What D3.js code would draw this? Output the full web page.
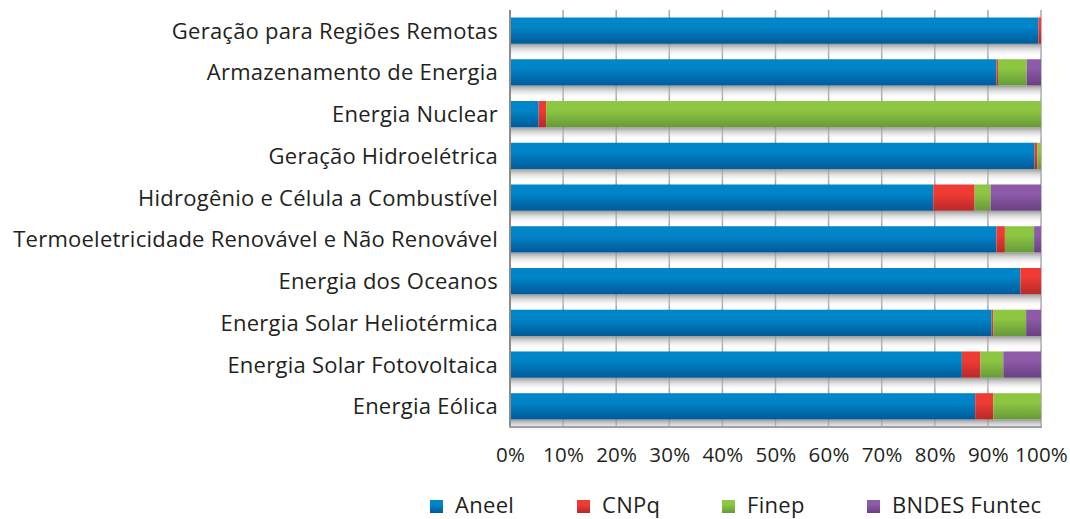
<!DOCTYPE html>
<html>
<head>
<meta charset="utf-8">
<script src="https://cdn.jsdelivr.net/npm/d3@7"></script>
<style>
  html, body { margin: 0; padding: 0; background: #fff; }
  svg text { font-family: "Open Sans", "Lato", sans-serif; fill: #231f20; }
</style>
</head>
<body>
<svg id="chart" width="1070" height="519"></svg>
<script>
// Programs, top to bottom
const categories = [
  "Geração para Regiões Remotas",
  "Armazenamento de Energia",
  "Energia Nuclear",
  "Geração Hidroelétrica",
  "Hidrogênio e Célula a Combustível",
  "Termoeletricidade Renovável e Não Renovável",
  "Energia dos Oceanos",
  "Energia Solar Heliotérmica",
  "Energia Solar Fotovoltaica",
  "Energia Eólica"
];

// Share of each funding source (%)
const aneel = [99.5, 91.6, 5.4, 98.8, 79.7, 91.6, 96.1, 90.7, 85.1, 87.6];
const cnpq  = [0.5,  0.3,  1.4, 0.5,  7.8,  1.6,  3.9,  0.3,  3.5,  3.4];
const finep = [0,    5.4, 93.2, 0.7,  3.0,  5.5,  0,    6.2,  4.3,  9.0];
const bndes = [0,    2.7,  0,   0,    9.5,  1.3,  0,    2.8,  7.1,  0];

const seriesNames = ["Aneel", "CNPq", "Finep", "BNDES Funtec"];
const tickValues = [0, 10, 20, 30, 40, 50, 60, 70, 80, 90, 100];

const seriesColors = [
  ["#0085c8", "#005a99"],
  ["#f03b35", "#b8282a"],
  ["#8dc641", "#66993a"],
  ["#8d5ba8", "#6a3f82"]
];

const rows = categories.map((c, i) => ({
  category: c,
  Aneel: aneel[i], CNPq: cnpq[i], Finep: finep[i], "BNDES Funtec": bndes[i]
}));

const svg = d3.select("#chart");
const margin = { left: 510, right: 29, top: 10, bottom: 92 };
const W = 1070, H = 519;

const x = d3.scaleLinear().domain([0, 100]).range([margin.left, W - margin.right]);
const y = d3.scaleBand().domain(categories).range([margin.top, H - margin.bottom]).paddingInner(0.37).paddingOuter(0.18);

const defs = svg.append("defs");
seriesColors.forEach((c, i) => {
  const g = defs.append("linearGradient").attr("id", "grad" + i)
    .attr("x1", 0).attr("y1", 0).attr("x2", 0).attr("y2", 1);
  g.append("stop").attr("offset", "0%").attr("stop-color", c[0]);
  g.append("stop").attr("offset", "35%").attr("stop-color", c[0]);
  g.append("stop").attr("offset", "100%").attr("stop-color", c[1]);
});
const sh = defs.append("linearGradient").attr("id", "shadow")
  .attr("x1", 0).attr("y1", 0).attr("x2", 0).attr("y2", 1);
sh.append("stop").attr("offset", "0%").attr("stop-color", "#8f8f8f").attr("stop-opacity", 0.9);
sh.append("stop").attr("offset", "100%").attr("stop-color", "#ffffff").attr("stop-opacity", 0);

// vertical gridlines
svg.append("g").selectAll("line").data(tickValues).join("line")
  .attr("x1", d => x(d)).attr("x2", d => x(d))
  .attr("y1", margin.top).attr("y2", H - margin.bottom + 1)
  .attr("stroke", "#a6a6a6").attr("stroke-width", 1.5);

const stack = d3.stack().keys(seriesNames)(rows);

// soft shadow beneath each bar
svg.append("g").selectAll("rect").data(rows).join("rect")
  .attr("x", x(0)).attr("width", x(100) - x(0))
  .attr("y", d => y(d.category) + y.bandwidth())
  .attr("height", 13)
  .attr("fill", "url(#shadow)");

// stacked bars
svg.append("g").selectAll("g").data(stack).join("g")
  .attr("fill", (d, i) => `url(#grad${i})`)
  .selectAll("rect").data(d => d).join("rect")
  .attr("x", d => x(d[0]))
  .attr("width", d => Math.max(0, x(d[1]) - x(d[0])))
  .attr("y", d => y(d.data.category))
  .attr("height", y.bandwidth());

// frame: left axis, bottom line
svg.append("line").attr("x1", x(0)).attr("x2", x(0))
  .attr("y1", margin.top).attr("y2", H - margin.bottom + 1)
  .attr("stroke", "#8c8c8c").attr("stroke-width", 2);
svg.append("line").attr("x1", x(0) - 1).attr("x2", x(100) + 1)
  .attr("y1", H - margin.bottom).attr("y2", H - margin.bottom)
  .attr("stroke", "#a0a0a0").attr("stroke-width", 2);

// category labels
svg.append("g").selectAll("text").data(categories).join("text")
  .attr("x", x(0) - 12)
  .attr("y", d => y(d) + y.bandwidth() / 2)
  .attr("dy", "0.36em")
  .attr("text-anchor", "end")
  .attr("font-size", 22)
  .attr("letter-spacing", 0.25)
  .text(d => d);

// percentage axis
const axis = d3.axisBottom(x).tickValues(tickValues).tickFormat(d => d + "%").tickSize(0).tickPadding(0);
const ax = svg.append("g").attr("transform", `translate(0, 462)`).call(axis);
ax.select(".domain").remove();
ax.selectAll("text").attr("font-size", 20.5).attr("dy", 0).attr("letter-spacing", 0.2)
  .style("font-family", "'Open Sans', Lato, sans-serif").attr("fill", "#231f20");

// legend
const legendX = [430, 577, 722, 867];
const lg = svg.append("g").selectAll("g").data(seriesNames).join("g")
  .attr("transform", (d, i) => `translate(${legendX[i]}, 500)`);
lg.append("rect").attr("width", 13).attr("height", 13)
  .attr("fill", (d, i) => `url(#grad${i})`);
lg.append("text").attr("x", 25).attr("y", 13)
  .attr("font-size", 22).attr("letter-spacing", 0.3).text(d => d);
</script>
</body>
</html>
